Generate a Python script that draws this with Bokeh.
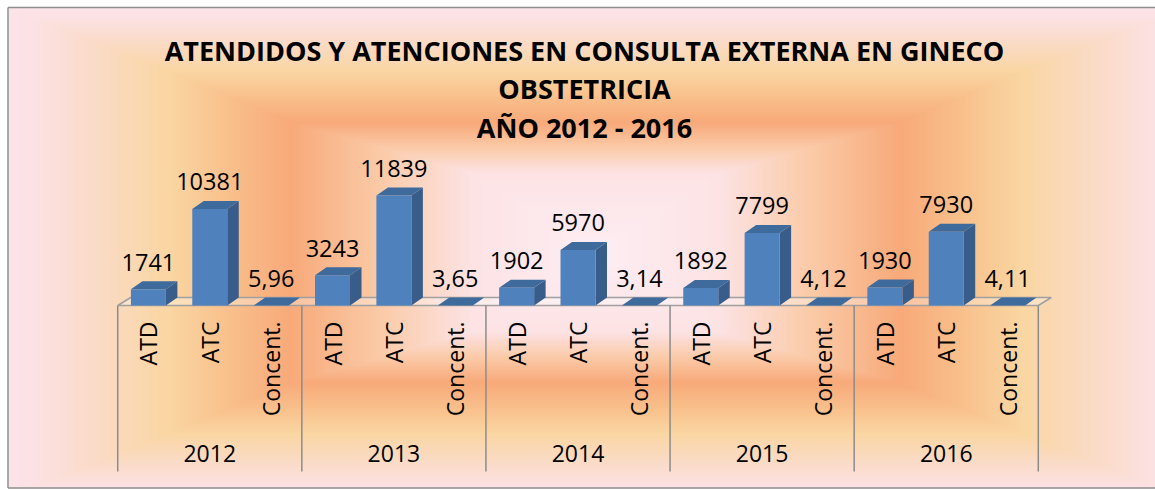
import numpy as np
from bokeh.plotting import figure
from bokeh.models import FactorRange, Range1d
from bokeh.core.properties import value
from bokeh.embed import file_html
from bokeh.resources import INLINE

# ---------------- data ----------------
years = ["2012", "2013", "2014", "2015", "2016"]
categories = ["ATD", "ATC", "Concent."]
atd = [1741, 3243, 1902, 1892, 1930]
atc = [10381, 11839, 5970, 7799, 7930]
concent = [5.96, 3.65, 3.14, 4.12, 4.11]
title_lines = ["ATENDIDOS Y ATENCIONES EN CONSULTA EXTERNA EN GINECO",
               "OBSTETRICIA",
               "AÑO 2012 - 2016"]

# ---------------- layout / style ----------------
W, H = 1155, 489
FLOOR_PX = 305          # floor front edge, px from top of figure
PPU = 0.0093            # pixels per data unit
PAD = 1.91              # factor units of padding on each side
FONT = value("Open Sans")

factors = [(y, c) for y in years for c in categories]
vals = []
labels = []
for i in range(len(years)):
    for v in (atd[i], atc[i], concent[i]):
        vals.append(v)
        labels.append(str(v) if isinstance(v, int) else f"{v:.2f}".replace(".", ","))

n_f = len(factors)
PXF = W / (n_f + 2 * PAD)     # pixels per factor
BW = 35 / PXF                 # bar front width (factor units)
DX = 11.5 / PXF               # 3D depth, x (factor units)
DXF = 13 / PXF                # floor depth, x
DY = 8 / PPU                  # 3D depth, y (data units)
X0 = -PAD                     # synthetic coordinate of the left edge
XW = n_f + 2 * PAD            # synthetic width of the frame

def sx(px):
    """pixel position (from left of figure) -> synthetic x coordinate"""
    return X0 + px / PXF

x_range = FactorRange(*factors, group_padding=0, factor_padding=0,
                      range_padding=PAD, range_padding_units="absolute")
y_range = Range1d(-(H - FLOOR_PX) / PPU, FLOOR_PX / PPU)

p = figure(width=W, height=H, x_range=x_range, y_range=y_range,
           output_backend="svg", toolbar_location=None,
           x_axis_location=None, y_axis_location=None,
           min_border=0, outline_line_color=None,
           background_fill_color="white", border_fill_color="white")
p.xgrid.grid_line_color = None
p.ygrid.grid_line_color = None
p.extra_y_ranges = {"bg": Range1d(0, 1), "px": Range1d(H, 0)}

# ---------------- background gradient (rectangular path) ----------------
BOX_L, BOX_T, BOX_B = 8, 7, 488
gw, gh = W, H
gx = np.arange(gw) + 0.5
gy = np.arange(gh) + 0.5
XX, YY = np.meshgrid(gx, gy)
cx, cy = 595.0, 252.0
t_stops = [0.0, 0.2, 0.5, 0.7, 1.0]
dx_stops = [0, 125, 305, 425, 590]
dy_stops = [0, 80, 130, 180, 245]
tx = np.interp(np.abs(XX - cx), dx_stops, t_stops, right=1.0)
ty = np.interp(np.abs(YY - cy), dy_stops, t_stops, right=1.0)
t = np.maximum(tx, ty)
stops = [0.0, 0.2, 0.35, 0.5, 0.6, 0.7, 0.85, 0.95, 1.0]
cols = ["#FEEEF4", "#FDE3E4", "#FBCBA8", "#F8AA7A", "#F9C08C", "#FAD6A2",
        "#FBDCCB", "#FCE2E4", "#FDE4EA"]
rgb = np.array([[int(c[i:i + 2], 16) for i in (1, 3, 5)] for c in cols], dtype=float)
img = np.zeros((gh, gw), dtype=np.uint32)
view = img.view(dtype=np.uint8).reshape((gh, gw, 4))
for k in range(3):
    view[:, :, k] = np.interp(t, stops, rgb[:, k]).astype(np.uint8)
view[:, :, 3] = 255
outside = (XX < BOX_L) | (YY < BOX_T) | (YY > BOX_B)
view[outside] = 255
p.image_rgba(image=[img[::-1]], x=X0, y=0, dw=XW, dh=1, y_range_name="bg")

# ---------------- floor ----------------
left = (years[0], categories[0], -0.5)
right = (years[-1], categories[-1], 0.5)
p.patch(x=[left, right, (years[-1], categories[-1], 0.5 + DXF), (years[0], categories[0], -0.5 + DXF)],
        y=[0, 0, DY, DY], fill_color="white", fill_alpha=0.3,
        line_color="#A0A0A0", line_width=1.5)

# group separators
edges = [(y, categories[0], -0.5) for y in years] + [right]
sep_len = 166 / PPU
p.segment(x0=edges, x1=edges, y0=[0] * len(edges), y1=[-sep_len] * len(edges),
          line_color="#8C8C8C", line_width=1.5)

# ---------------- 3D bars ----------------
side_xs, side_ys, top_xs, top_ys = [], [], [], []
for f, v in zip(factors, vals):
    side_xs.append([(*f, BW / 2), (*f, BW / 2 + DX), (*f, BW / 2 + DX), (*f, BW / 2)])
    side_ys.append([0, DY, v + DY, v])
    top_xs.append([(*f, -BW / 2), (*f, BW / 2), (*f, BW / 2 + DX), (*f, -BW / 2 + DX)])
    top_ys.append([v, v, v + DY, v + DY])
p.patches(xs=side_xs, ys=side_ys, fill_color="#385D8A", line_color=None)
p.patches(xs=top_xs, ys=top_ys, fill_color="#3F6A9C", line_color=None)
p.vbar(x=factors, top=vals, bottom=0, width=BW, fill_color="#4F81BD", line_color=None)

# ---------------- labels ----------------
p.text(x=factors, y=vals, text=labels, y_offset=-27,
       text_font=FONT, text_font_size="23.5px", text_color="black",
       text_align="center", text_baseline="alphabetic")
p.text(x=factors, y=[0] * n_f, text=[f[1] for f in factors], angle=np.pi / 2,
       y_offset=16, text_font=FONT, text_font_size="23px", text_color="black",
       text_align="right", text_baseline="middle")
p.text(x=years, y=[0] * len(years), text=years, y_offset=148,
       text_font=FONT, text_font_size="23px", text_color="black",
       text_align="center", text_baseline="middle")

# title
p.text(x=[sx(584)] * 3, y=[50, 88, 127], text=title_lines, y_range_name="px",
       text_font=FONT, text_font_style="bold", text_font_size="27px",
       text_color="black", text_align="center", text_baseline="middle")

# chart border (left, top, bottom)
p.segment(x0=[sx(7.5), sx(7.5), sx(7.5)], x1=[sx(7.5), X0 + XW, X0 + XW],
          y0=[7, 7, 487.5], y1=[487.5, 7, 487.5], y_range_name="px",
          line_color="#8E8E8E", line_width=1.5)

open("out.html", "w").write(file_html(p, INLINE))
